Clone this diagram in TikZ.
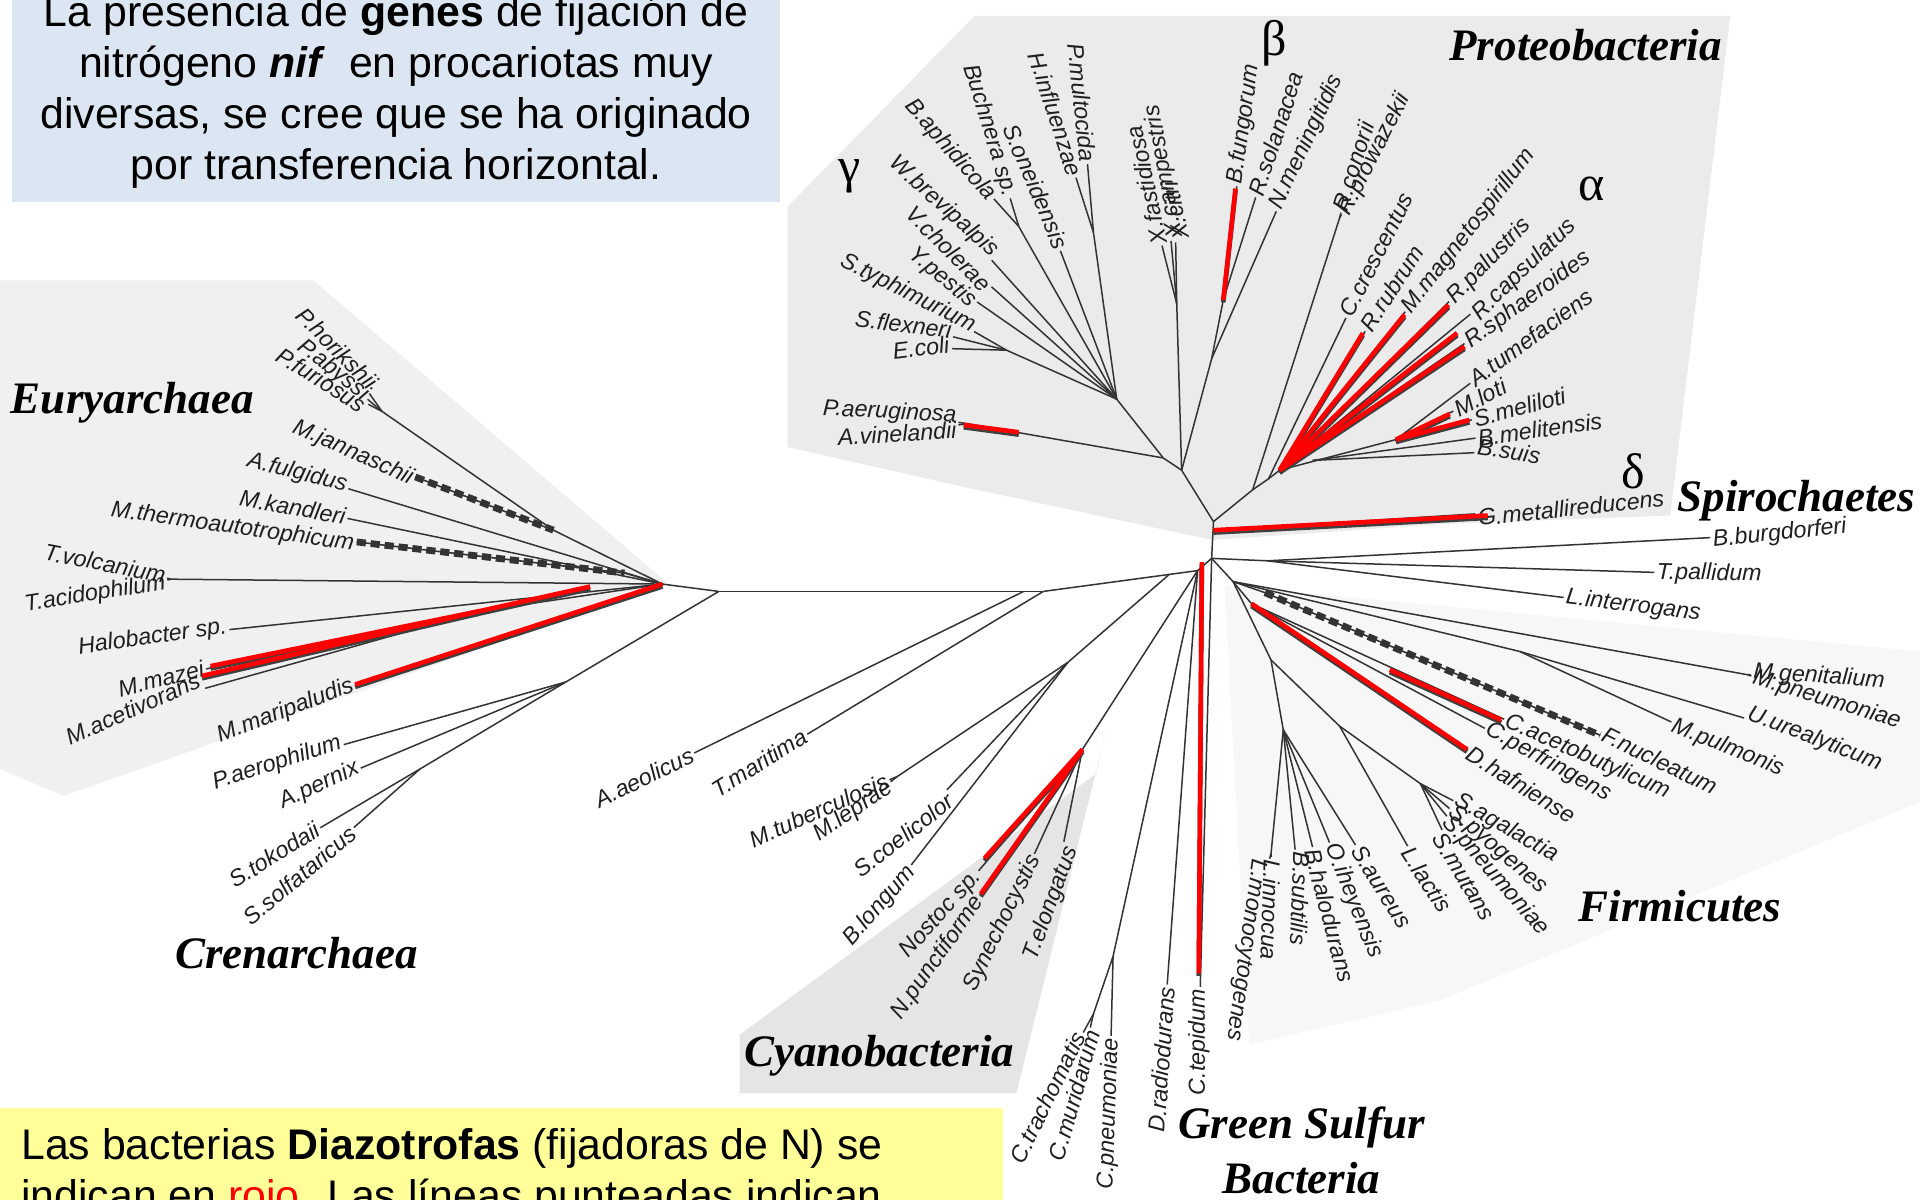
\documentclass[tikz,border=0pt]{standalone}
\usepackage{fontspec}
\setmainfont{Liberation Sans}
\newfontfamily\timesfam{Liberation Serif}
\usetikzlibrary{calc}
\definecolor{notablue}{HTML}{DCE6F2}
\definecolor{notayellow}{HTML}{FFFF99}
\newcommand\nifpath[2]{\draw[nifshadow] ([yshift=-1.2pt]#1) -- ([yshift=-1.2pt]#2);
  \draw[nif] (#1) -- (#2);}

\begin{document}
\begin{tikzpicture}[x=0.6122pt,y=-0.6122pt,
  br/.style={draw=black!80,line width=0.75pt},
  dsh/.style={draw=black!80,line width=3.4pt,dash pattern=on 4.6pt off 2.4pt,
    preaction={draw=black!80,line width=0.8pt,solid}},
  nif/.style={draw=red,line width=2.3pt},
  nifshadow/.style={draw=black!75,line width=2.3pt},
  sp/.style={font=\fontsize{11.6}{13}\selectfont\itshape,text=black!88,inner sep=1pt},
  clade/.style={font=\timesfam\bfseries\itshape\fontsize{22.5}{24}\selectfont,inner sep=0pt},
  greek/.style={font=\timesfam\fontsize{25}{26}\selectfont,inner sep=0pt},
  note/.style={font=\fontsize{21.4}{25.4}\selectfont,inner sep=0pt},
  region/.style={fill=black!#1}]
\useasboundingbox (0,0) rectangle (1568,980);
% shaded clades
\fill[region=6] (0,229) -- (256,229) -- (545,476) -- (52,650) -- (0,628) -- cycle;
\fill[region=8] (796,13) -- (1413,13) -- (1364,421) -- (1176,428) -- (990,441) -- (784,397) -- (643,365) -- (643,169) -- cycle;
\fill[region=10] (604,845) -- (895,632) -- (903,598) -- (830,893) -- (604,893) -- cycle;
\fill[region=3] (1000,478) -- (1568,532) -- (1568,655) -- (1176,817) -- (1020,853) -- cycle;
% notes
\fill[notablue] (10,-10) rectangle (637,165);
\node[note,anchor=base] (top1) at (323.5,21.8) {La presencia de \textbf{genes} de fijación de};
\node[note,anchor=base] (top2) at (323.5,63.5) {nitrógeno \textbf{\textit{nif}}\ \ en procariotas muy};
\node[note,anchor=base] (top3) at (323.5,105) {diversas, se cree que se ha originado};
\node[note,anchor=base] (top4) at (323.5,146.5) {por transferencia horizontal.};
\fill[notayellow] (-5,905) rectangle (819,990);
\node[note,anchor=base west] (bot1) at (17,947) {Las bacterias \textbf{Diazotrofas} (fijadoras de N) se};
\node[note,anchor=base west] (bot2) at (17,988.5) {indican en \textcolor{red}{rojo}. Las líneas punteadas indican};
% clade names
\node[clade] (eury) at (108,329) {Euryarchaea};
\node[clade] (cren) at (242,778) {Crenarchaea};
\node[clade] (cyan) at (718,862) {Cyanobacteria};
\node[clade] (prot) at (1295,37) {Proteobacteria};
\node[clade] (spir) at (1467,409) {Spirochaetes};
\node[clade] (firm) at (1372,740) {Firmicutes};
\node[clade,anchor=base] (gsb1) at (1063,930) {Green Sulfur};
\node[clade,anchor=base] (gsb2) at (1063,975) {Bacteria};
\node[greek] (gam) at (694,144) {γ};
\node[greek] (bet) at (1041,35) {β};
\node[greek] (alp) at (1300,154) {α};
\node[greek] (del) at (1334,385) {δ};

% inner points
\coordinate (RA) at (587,483); \coordinate (E) at (541,477); \coordinate (J1) at (452,433);
\coordinate (J3) at (510,468); \coordinate (pyr) at (312,336); \coordinate (thp) at (140,473);
\coordinate (msn) at (392,499); \coordinate (Ct) at (462,557); \coordinate (Cs) at (343,628);
\coordinate (B1) at (836,483); \coordinate (B2) at (852,483); \coordinate (Bl) at (955,469);
\coordinate (Bj) at (978,466); \coordinate (Bc) at (989.5,456); \coordinate (Pd) at (991,433);
\coordinate (P0) at (991,426);
\coordinate (Ac) at (872,541); \coordinate (Cy) at (884,612); \coordinate (chl) at (909,781);
\coordinate (chm) at (893,828); \coordinate (mtn) at (733,634);
\coordinate (Sp) at (1035,458); \coordinate (Fi) at (1007,475); \coordinate (Mu) at (1241,532);
\coordinate (Mg) at (1427,551); \coordinate (fn0) at (1033,484);
\coordinate (cl) at (1022,493); \coordinate (ba1) at (1038,539); \coordinate (ba2) at (1048,596);
\coordinate (li) at (1038,697); \coordinate (la) at (1094,593); \coordinate (st) at (1160,640);
\coordinate (Pbg) at (965,384); \coordinate (Pa) at (1023,400); \coordinate (Pa1) at (1036,391);
\coordinate (Pa2) at (1045,384); \coordinate (rh) at (1140,359); \coordinate (rb) at (1072,376);
\coordinate (G0) at (950,374); \coordinate (G1) at (912,326); \coordinate (xan) at (961,248);
\coordinate (bt1) at (999,245); \coordinate (bt2) at (989.5,293); \coordinate (ps) at (790,346);
\coordinate (pas) at (893,190); \coordinate (buc) at (832,185); \coordinate (ent) at (822,286);
\coordinate (rk) at (1094,178);

% Archaea
\node[sp,rotate=-45,anchor=east] (pho) at (307,316) {P.horikshii};
\node[sp,rotate=-38,anchor=east] (pab) at (301,325) {P.abyssi};
\node[sp,rotate=-32,anchor=east] (pfu) at (299,333) {P.furiosus};
\node[sp,rotate=-24,anchor=east] (mja) at (338,392) {M.jannaschii};
\node[sp,rotate=-14,anchor=east] (afu) at (285,397) {A.fulgidus};
\node[sp,rotate=-10,anchor=east] (mka) at (284,422) {M.kandleri};
\node[sp,rotate=-8,anchor=east] (mth) at (291,445) {M.thermoautotrophicum};
\node[sp,rotate=-11,anchor=east] (tvo) at (137,470) {T.volcanium};
\node[sp,rotate=9,anchor=east] (tac) at (137,476) {T.acidophilum};
\node[sp,rotate=8,anchor=east] (hal) at (187,512) {Halobacter sp.};
\node[sp,rotate=14,anchor=east] (mmz) at (168,545) {M.mazei};
\node[sp,rotate=24,anchor=east] (mac) at (164,554) {M.acetivorans};
\node[sp,rotate=21,anchor=east] (mmp) at (290,559) {M.maripaludis};
\node[sp,rotate=18,anchor=east] (pae) at (280,606) {P.aerophilum};
\node[sp,rotate=25,anchor=east] (ape) at (294,626) {A.pernix};
\node[sp,rotate=32,anchor=east] (sto) at (261,675) {S.tokodaii};
\node[sp,rotate=40,anchor=east] (sso) at (290,677) {S.solfataricus};

\draw[br] (E) -- (RA); \draw[br] (J1) -- (E); \draw[br] (pyr) -- (J1);
\draw[br] (pyr) -- (pho); \draw[br] (pyr) -- (pab); \draw[br] (pyr) -- (pfu);
\draw[br] (afu) -- (E); \draw[br] (mka) -- (E); \draw[br] (J3) -- (E);
\draw[br] (thp) -- (E); \draw[br] (thp) -- (tvo); \draw[br] (thp) -- (tac);
\draw[br] (hal) -- (E); \draw[br] (mmz) -- (msn); \draw[br] (mac) -- (msn);
\draw[br] (msn) -- (E); \draw[br] (mmp) -- (E);
\draw[br] (RA) -- (Ct); \draw[br] (Ct) -- (Cs); \draw[br] (pae) -- (Ct);
\draw[br] (ape) -- (Ct); \draw[br] (sto) -- (Cs); \draw[br] (sso) -- (Cs);
\draw[dsh] (mja) -- (J1); \draw[dsh] (mth) -- (J3);

% Bacteria, lower left
\node[sp,rotate=26,anchor=east] (aae) at (567,615) {A.aeolicus};
\node[sp,rotate=32,anchor=east] (tma) at (659,599) {T.maritima};
\node[sp,rotate=24,anchor=east] (mtb) at (726,636) {M.tuberculosis};
\node[sp,rotate=34,anchor=east] (mle) at (729,641) {M.leprae};
\node[sp,rotate=38,anchor=east] (sco) at (778,651) {S.coelicolor};
\node[sp,rotate=49,anchor=east] (blo) at (746,708) {B.longum};
\node[sp,rotate=48,anchor=east] (nos) at (800,712) {Nostoc sp.};
\node[sp,rotate=55,anchor=east] (npu) at (801,732) {N.punctiforme};
\node[sp,rotate=64,anchor=east] (syn) at (846,698) {Synechocystis};
\node[sp,rotate=70,anchor=east] (tel) at (876,690) {T.elongatus};
\node[sp,rotate=64,anchor=east] (ctr) at (882,842) {C.trachomatis};
\node[sp,rotate=74,anchor=east] (cmu) at (893,840) {C.muridarum};
\node[sp,rotate=88,anchor=east] (cpn) at (908,846) {C.pneumoniae};
\node[sp,rotate=86,anchor=east] (dra) at (953,804) {D.radiodurans};
\node[sp,rotate=90,anchor=east] (cte) at (979,806) {C.tepidum};

\draw[br] (RA) -- (B1); \draw[br] (B1) -- (B2); \draw[br] (B2) -- (Bj); \draw[br] (Bj) -- (Bc);
\draw[br] (aae) -- (B1); \draw[br] (tma) -- (B2); \draw[br] (Ac) -- (Bl); \draw[br] (Cy) -- (Bj);
\draw[br] (mtn) -- (Ac); \draw[br] (mtn) -- (mtb); \draw[br] (mtn) -- (mle);
\draw[br] (sco) -- (Ac); \draw[br] (blo) -- (Ac);
\draw[br] (nos) -- (Cy); \draw[br] (npu) -- (Cy); \draw[br] (syn) -- (Cy); \draw[br] (tel) -- (Cy);
\draw[br] (chl) -- (Bj); \draw[br] (chm) -- (chl); \draw[br] (ctr) -- (chm);
\draw[br] (cmu) -- (chm); \draw[br] (cpn) -- (chl);
\draw[br] (dra) -- (Bj); \draw[br] (cte) -- (Bc); \draw[br] (Bc) -- (P0);

% Spirochaetes and Firmicutes
\node[sp,rotate=6,anchor=west] (bbu) at (1397,442) {B.burgdorferi};
\node[sp,rotate=-1,anchor=west] (tpa) at (1351,468) {T.pallidum};
\node[sp,rotate=-7,anchor=west] (lin) at (1277,488) {L.interrogans};
\node[sp,rotate=-4,anchor=west] (mge) at (1430,549) {M.genitalium};
\node[sp,rotate=-17,anchor=west] (mpn) at (1430,553) {M.pneumoniae};
\node[sp,rotate=-21,anchor=west] (uur) at (1426,582) {U.urealyticum};
\node[sp,rotate=-22,anchor=west] (mpu) at (1364,592) {M.pulmonis};
\node[sp,rotate=-26,anchor=west] (fnu) at (1308,598) {F.nucleatum};
\node[sp,rotate=-24,anchor=west] (cac) at (1228,588) {C.acetobutylicum};
\node[sp,rotate=-29,anchor=west] (cpe) at (1213,594) {C.perfringens};
\node[sp,rotate=-32,anchor=west] (dha) at (1198,613) {D.hafniense};
\node[sp,rotate=-30,anchor=west] (sag) at (1188,652) {S.agalactia};
\node[sp,rotate=-41,anchor=west] (spy) at (1184,660) {S.pyogenes};
\node[sp,rotate=-49,anchor=west] (spn) at (1180,668) {S.pneumoniae};
\node[sp,rotate=-59,anchor=west] (smu) at (1174,680) {S.mutans};
\node[sp,rotate=-57,anchor=west] (lla) at (1148,692) {L.lactis};
\node[sp,rotate=-58,anchor=west] (sau) at (1107,690) {S.aureus};
\node[sp,rotate=-68,anchor=west] (oih) at (1086,688) {O.iheyensis};
\node[sp,rotate=-75,anchor=west] (bha) at (1071,692) {B.halodurans};
\node[sp,rotate=-92,anchor=west] (bsb) at (1063,694) {B.subtilis};
\node[sp,rotate=-92,anchor=west] (lin2) at (1039,700) {L.innocua};
\node[sp,rotate=-98,anchor=west] (lmo) at (1028,700) {L.monocytogenes};

\draw[br] (Bc) -- (Sp); \draw[br] (Sp) -- (bbu); \draw[br] (Sp) -- (tpa); \draw[br] (Sp) -- (lin);
\draw[br] (Bc) -- (Fi); \draw[br] (Fi) -- (Mg); \draw[br] (Fi) -- (Mu);
\draw[br] (Mg) -- (mge); \draw[br] (Mg) -- (mpn); \draw[br] (Mu) -- (uur); \draw[br] (Mu) -- (mpu);
\draw[br] (Fi) -- (fn0); \draw[dsh] (fn0) -- (fnu);
\draw[br] (Fi) -- (cl); \draw[br] (cl) -- (cac); \draw[br] (cl) -- (cpe); \draw[br] (cl) -- (dha);
\draw[br] (Fi) -- (ba1); \draw[br] (ba1) -- (ba2); \draw[br] (ba2) -- (li);
\draw[br] (li) -- (lin2); \draw[br] (li) -- (lmo); \draw[br] (ba2) -- (bsb); \draw[br] (ba2) -- (bha);
\draw[br] (ba2) -- (oih); \draw[br] (ba2) -- (sau); \draw[br] (ba1) -- (la); \draw[br] (la) -- (lla);
\draw[br] (la) -- (st); \draw[br] (st) -- (sag); \draw[br] (st) -- (spy); \draw[br] (st) -- (spn);
\draw[br] (st) -- (smu);

% Proteobacteria
\node[sp,rotate=6,anchor=west] (gme) at (1205,423) {G.metallireducens};
\node[sp,rotate=72,anchor=west] (rco) at (1093,173) {R.conorii};
\node[sp,rotate=63,anchor=west] (rpr) at (1097,176) {R.prowazekii};
\node[sp,rotate=63,anchor=west] (ccr) at (1098,259) {C.crescentus};
\node[sp,rotate=57,anchor=west] (rru) at (1114,270) {R.rubrum};
\node[sp,rotate=52,anchor=west] (mma) at (1148,255) {M.magnetospirillum};
\node[sp,rotate=46,anchor=west] (rpa) at (1184,247) {R.palustris};
\node[sp,rotate=44,anchor=west] (rca) at (1204,260) {R.capsulatus};
\node[sp,rotate=36,anchor=west] (rsp) at (1197,282) {R.sphaeroides};
\node[sp,rotate=36,anchor=west] (atu) at (1200,312) {A.tumefaciens};
\node[sp,rotate=27,anchor=west] (mlo) at (1187,336) {M.loti};
\node[sp,rotate=15,anchor=west] (sme) at (1202,343) {S.meliloti};
\node[sp,rotate=8,anchor=west] (bme) at (1205,358) {B.melitensis};
\node[sp,rotate=-9,anchor=west] (bsi) at (1205,364) {B.suis};
\node[sp,rotate=82,anchor=west] (bfu) at (1009,152) {B.fungorum};
\node[sp,rotate=72,anchor=west] (rso) at (1025,161) {R.solanacea};
\node[sp,rotate=65,anchor=west] (nme) at (1041,172) {N.meningitidis};
\node[sp,rotate=102,anchor=west] (xfa) at (947,201) {X.fastidiosa};
\node[sp,rotate=100,anchor=west] (xca) at (961,196) {X.campestris};
\node[sp,rotate=102,anchor=west] (xci) at (965,197) {X.citri};
\node[sp,rotate=-84,anchor=east] (pmu) at (889,134) {P.multocida};
\node[sp,rotate=-72,anchor=east] (hin) at (879,145) {H.influenzae};
\node[sp,rotate=-67,anchor=east] (son) at (868,204) {S.oneidensis};
\node[sp,rotate=-73,anchor=east] (bsp) at (825,162) {Buchnera sp.};
\node[sp,rotate=-49,anchor=east] (bap) at (811,163) {B.aphidicola};
\node[sp,rotate=-42,anchor=east] (wbr) at (814,208) {W.brevipalpis};
\node[sp,rotate=-45,anchor=east] (vch) at (808,236) {V.cholerae};
\node[sp,rotate=-40,anchor=east] (ype) at (796,249) {Y.pestis};
\node[sp,rotate=-27,anchor=east] (sty) at (797,268) {S.typhimurium};
\node[sp,rotate=-7,anchor=east] (sfl) at (779,270) {S.flexneri};
\node[sp,rotate=7,anchor=east] (eco) at (777,281) {E.coli};
\node[sp,rotate=-3,anchor=east] (pag) at (783,340) {P.aeruginosa};
\node[sp,rotate=3.5,anchor=east] (avi) at (783,351) {A.vinelandii};

\draw[br] (Pd) -- (gme); \draw[br] (P0) -- (Pa); \draw[br] (P0) -- (Pbg);
\draw[br] (Pa) -- (rk); \draw[br] (rk) -- (rco); \draw[br] (rk) -- (rpr);
\draw[br] (Pa) -- (Pa1); \draw[br] (Pa1) -- (ccr); \draw[br] (Pa1) -- (Pa2);
\draw[br] (Pa2) -- (rru); \draw[br] (Pa2) -- (mma); \draw[br] (Pa2) -- (rpa);
\draw[br] (Pa2) -- (rca); \draw[br] (Pa2) -- (rsp); \draw[br] (Pa2) -- (rh);
\draw[br] (rh) -- (atu); \draw[br] (rh) -- (mlo); \draw[br] (rh) -- (sme);
\draw[br] (rb) -- (bme); \draw[br] (rb) -- (bsi);
\draw[br] (Pbg) -- (bt2); \draw[br] (bt2) -- (bt1); \draw[br] (bt2) -- (nme);
\draw[br] (bt1) -- (bfu); \draw[br] (bt1) -- (rso);
\draw[br] (Pbg) -- (xan); \draw[br] (xan) -- (xfa); \draw[br] (xan) -- (xca); \draw[br] (xan) -- (xci);
\draw[br] (Pbg) -- (G0); \draw[br] (G0) -- (G1); \draw[br] (G0) -- (ps);
\draw[br] (ps) -- (pag); \draw[br] (ps) -- (avi);
\draw[br] (G1) -- (pas); \draw[br] (pas) -- (pmu); \draw[br] (pas) -- (hin);
\draw[br] (G1) -- (son); \draw[br] (G1) -- (buc); \draw[br] (buc) -- (bsp); \draw[br] (buc) -- (bap);
\draw[br] (G1) -- (wbr); \draw[br] (G1) -- (vch); \draw[br] (G1) -- (ype); \draw[br] (G1) -- (ent);
\draw[br] (ent) -- (sty); \draw[br] (ent) -- (sfl); \draw[br] (ent) -- (eco);

% diazotrophs
\coordinate (r1a) at (172,544); \coordinate (r1b) at (165,552); \coordinate (r1c) at (482,479);
\coordinate (r2a) at (290,559); \coordinate (rn1) at (804,701); \coordinate (rn2) at (801,730);
\coordinate (rct1) at (981.5,459); \coordinate (rct2) at (979,795);
\coordinate (rdh1) at (1022,493); \coordinate (rdh2) at (1198,612);
\coordinate (rca1) at (1135,547); \coordinate (rca2) at (1226,588);
\coordinate (rgm1) at (991,433); \coordinate (rgm2) at (1215,421);
\coordinate (rbf) at (1009,154); \coordinate (rrr) at (1113,272); \coordinate (rmm) at (1147,257);
\coordinate (rrp) at (1183,249); \coordinate (rrc) at (1190,272); \coordinate (rrs) at (1196,283);
\coordinate (rml) at (1184,338); \coordinate (rsm) at (1200,343);
\coordinate (rps1) at (787,347); \coordinate (rps2) at (832,353);
\nifpath{r1a}{msn} \nifpath{r1b}{msn} \nifpath{msn}{r1c} \nifpath{r2a}{E}
\nifpath{rn1}{Cy} \nifpath{rn2}{Cy} \nifpath{rct1}{rct2}
\nifpath{rdh1}{rdh2} \nifpath{rca1}{rca2} \nifpath{rgm1}{rgm2}
\nifpath{rbf}{bt1} \nifpath{Pa2}{rrr} \nifpath{Pa2}{rmm} \nifpath{Pa2}{rrp}
\nifpath{Pa2}{rrc} \nifpath{Pa2}{rrs} \nifpath{rh}{rml} \nifpath{rh}{rsm}
\nifpath{rps1}{rps2}
\end{tikzpicture}
\end{document}
